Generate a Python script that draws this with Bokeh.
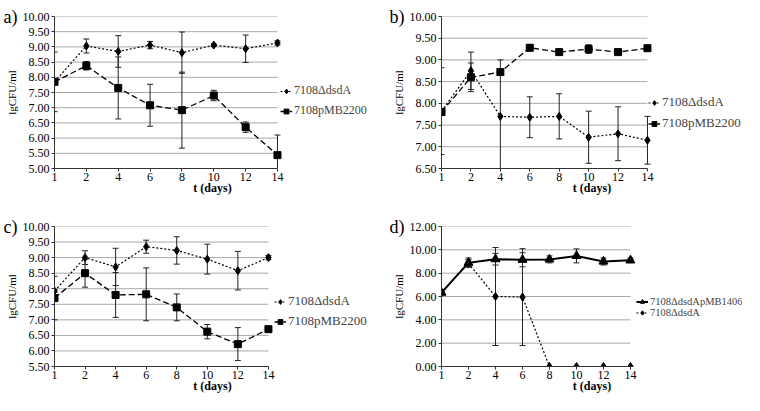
from bokeh.plotting import figure
from bokeh.models import (ColumnDataSource, Whisker, TeeHead, Range1d, FixedTicker, LinearAxis,
                          NumeralTickFormatter, Legend, LegendItem)
from bokeh.layouts import column, row
from bokeh.embed import file_html
from bokeh.resources import INLINE

days = ["1", "2", "4", "6", "8", "10", "12", "14"]

a_dsda = [7.85, 9.03, 8.85, 9.06, 8.81, 9.06, 8.94, 9.13]
a_dsda_err = [0.98, 0.23, 0.52, 0.12, 0.68, 0.04, 0.45, 0.07]
a_pmb2200 = [7.85, 8.38, 7.65, 7.08, 6.92, 7.40, 6.36, 5.44]
a_pmb2200_err = [0.05, 0.14, 1.02, 0.69, 1.25, 0.17, 0.17, 0.66]

b_dsda = [7.82, 8.75, 7.70, 7.68, 7.70, 7.22, 7.30, 7.15]
b_dsda_err = [1.00, 0.43, 1.30, 0.47, 0.52, 0.60, 0.62, 0.55]
b_pmb2200 = [7.80, 8.60, 8.72, 9.28, 9.18, 9.25, 9.18, 9.27]
b_pmb2200_err = [0.05, 0.33, 0.04, 0.07, 0.05, 0.10, 0.05, 0.03]

c_dsda = [7.93, 9.00, 8.70, 9.35, 9.23, 8.95, 8.58, 9.00]
c_dsda_err = [0.05, 0.22, 0.60, 0.21, 0.44, 0.48, 0.62, 0.07]
c_pmb2200 = [7.70, 8.50, 7.80, 7.82, 7.40, 6.62, 6.22, 6.70]
c_pmb2200_err = [0.70, 0.45, 0.72, 0.85, 0.43, 0.23, 0.53, 0.03]

d_pmb1406 = [6.33, 8.90, 9.20, 9.15, 9.18, 9.48, 9.00, 9.10]
d_pmb1406_err = [0.10, 0.40, 0.50, 0.60, 0.30, 0.60, 0.30, 0.20]
d_dsda = [6.30, 8.85, 6.00, 5.95, 0.0, 0.0, 0.0, 0.0]
d_dsda_err = [0.05, 0.30, 4.20, 4.15, 0.0, 0.0, 0.0, 0.0]

FONT = "Liberation Serif"
X = list(range(len(days)))
XMAX = len(days) - 1


def add_series(p, vals, errs, marker, size, dash, width):
    src = ColumnDataSource(dict(x=X, y=vals,
                                up=[v + e for v, e in zip(vals, errs)],
                                lo=[v - e for v, e in zip(vals, errs)]))
    w = Whisker(base="x", upper="up", lower="lo", source=src,
                line_color="#222222", line_width=1,
                upper_head=TeeHead(size=6, line_color="#222222", line_width=1),
                lower_head=TeeHead(size=6, line_color="#222222", line_width=1))
    p.add_layout(w)
    lr = p.line("x", "y", source=src, line_color="black", line_width=width, line_dash=dash)
    sr = p.scatter("x", "y", source=src, marker=marker, size=size,
                   fill_color="black", line_color="black")
    return [lr, sr]


def make_panel(letter, h, left, top, bottom, xend, ylo, yhi, ystep, series,
               leg_loc, leg_font, leg_lh, leg_spacing):
    p = figure(width=372, height=h, output_backend="svg", toolbar_location=None,
               x_range=Range1d(0, xend), y_range=Range1d(ylo, yhi),
               min_border_left=left, min_border_right=2,
               min_border_top=top, min_border_bottom=bottom)
    p.outline_line_color = None
    p.xgrid.visible = False
    p.ygrid.visible = False
    n = int(round((yhi - ylo) / ystep))
    yticks = [ylo + i * ystep for i in range(n + 1)]
    p.segment(x0=[0] * len(yticks), x1=[XMAX] * len(yticks), y0=yticks, y1=yticks,
              line_color="#a8a8a8", line_width=1, level="underlay")
    p.yaxis.ticker = FixedTicker(ticks=yticks)
    p.yaxis.formatter = NumeralTickFormatter(format="0.00")
    p.xaxis.ticker = FixedTicker(ticks=X)
    p.xaxis.bounds = (0, XMAX)
    p.xaxis.major_label_overrides = {i: d for i, d in enumerate(days)}
    for ax in (p.xaxis[0], p.yaxis[0]):
        ax.axis_line_color = "#333333"
        ax.major_tick_line_color = "#333333"
        ax.major_tick_out = 3
        ax.major_tick_in = 0
        ax.minor_tick_line_color = None
        ax.major_label_text_font = FONT
        ax.major_label_text_font_size = "12px"
        ax.major_label_text_color = "black"
        ax.axis_label_text_font = FONT
        ax.axis_label_text_color = "black"
    p.xaxis.major_label_standoff = 1
    p.yaxis.major_label_standoff = 2
    p.xaxis.axis_label = "t (days)"
    p.xaxis.axis_label_text_font_style = "bold"
    p.xaxis.axis_label_text_font_size = "12px"
    p.xaxis.axis_label_standoff = -3
    p.yaxis.axis_label = "lgCFU/ml"
    p.yaxis.axis_label_text_font_style = "normal"
    p.yaxis.axis_label_text_font_size = "11px"
    p.yaxis.axis_label_standoff = 2

    lax = LinearAxis(ticker=FixedTicker(ticks=[]), axis_label=letter,
                     axis_label_orientation="horizontal", axis_label_align="end",
                     axis_line_color=None, major_tick_line_color=None,
                     minor_tick_line_color=None, major_tick_out=0, major_tick_in=0,
                     major_label_standoff=0, axis_label_standoff=-15,
                     axis_label_text_font=FONT, axis_label_text_font_size="18px",
                     axis_label_text_font_style="normal", axis_label_text_color="black")
    p.add_layout(lax, "left")

    items = []
    for name, vals, errs, marker, size, dash, lw in series:
        rs = add_series(p, vals, errs, marker, size, dash, lw)
        items.append(LegendItem(label=name, renderers=rs))
    leg = Legend(items=items, location=leg_loc, orientation="vertical",
                 label_text_font=FONT, label_text_font_size=leg_font,
                 glyph_width=12, glyph_height=leg_lh, label_height=leg_lh,
                 spacing=leg_spacing, padding=0, margin=0, label_standoff=2,
                 background_fill_alpha=0, border_line_color=None)
    p.add_layout(leg, "center")
    return p


DOT = "2 2"
DASH = "6 3"

pa = make_panel("a)", 198, 0, 16, 30, 9.92, 5.0, 10.0, 0.5, [
    ("7108ΔdsdA", a_dsda, a_dsda_err, "diamond", 8, DOT, 1.2),
    ("7108pMB2200", a_pmb2200, a_pmb2200_err, "square", 7, DASH, 1.3),
], (226, 50), "12px", 12, 5)

pb = make_panel("b)", 198, 69, 16, 30, 10.23, 6.5, 10.0, 0.5, [
    ("7108ΔdsdA", b_dsda, b_dsda_err, "diamond", 8, DOT, 1.2),
    ("7108pMB2200", b_pmb2200, b_pmb2200_err, "square", 7, DASH, 1.3),
], (207, 37), "13px", 13, 5)

pc = make_panel("c)", 197, 0, 28, 28, 10.34, 5.5, 10.0, 0.5, [
    ("7108ΔdsdA", c_dsda, c_dsda_err, "diamond", 8, DOT, 1.2),
    ("7108pMB2200", c_pmb2200, c_pmb2200_err, "square", 7, DASH, 1.3),
], (220, 37), "13px", 13, 4)

pd = make_panel("d)", 197, 69, 28, 28, 11.15, 0.0, 12.0, 2.0, [
    ("7108ΔdsdApMB1406", d_pmb1406, d_pmb1406_err, "triangle", 9, "solid", 2),
    ("7108ΔdsdA", d_dsda, d_dsda_err, "diamond", 8, DOT, 1.2),
], (195, 48), "10.5px", 11, 0)

layout = column(row(pa, pb), row(pc, pd))
open("out.html", "w").write(file_html(layout, INLINE))
